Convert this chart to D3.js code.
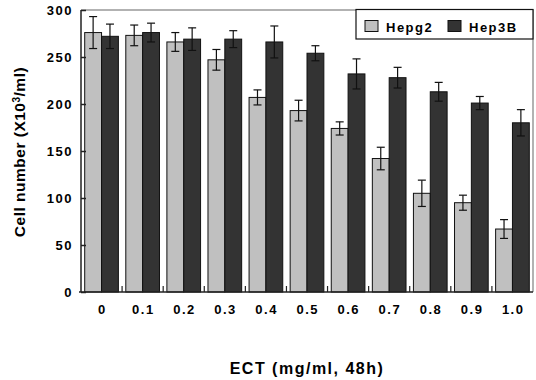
<!DOCTYPE html>
<html><head><meta charset="utf-8">
<script src="https://cdn.jsdelivr.net/npm/d3@7"></script>
<style>body{margin:0;background:#fff}svg{display:block;font-family:Arial,"Liberation Sans",sans-serif;font-weight:bold}</style>
</head><body><svg id="c" width="536" height="380"></svg>
<script>
const categories = ["0","0.1","0.2","0.3","0.4","0.5","0.6","0.7","0.8","0.9","1.0"];
const seriesNames = ["Hepg2","Hep3B"];
const hepg2 = [276,273,266,247,207,193,174,142,105,95,67];
const hepg2Err = [17,11,10,11,8,11,7,12,14,8,10];
const hep3b = [272,276,269,269,266,254,232,228,213,201,180];
const hep3bErr = [13,10,12,9,17,8,16,11,10,7,14];
const yTicks = [0,50,100,150,200,250,300];
const colors = ["#c0c0c0","#333333"];

const svg = d3.select("#c");
const m = {l:81, r:533, t:10, b:292};
const x = d3.scaleBand().domain(categories).range([m.l, m.r]).paddingInner(0).paddingOuter(0);
const xs = d3.scaleBand().domain(seriesNames).range([0, x.bandwidth()]).paddingInner(0).paddingOuter(0.22);
const y = d3.scaleLinear().domain([0,300]).range([m.b, m.t]);
const FF = "Arial, Liberation Sans, sans-serif";

svg.append("path").attr("d",`M${m.l},${m.t}H${m.r}V${m.b}`).attr("fill","none").attr("stroke","#999").attr("stroke-width",1.5);

const data = [hepg2, hep3b], errs = [hepg2Err, hep3bErr];
seriesNames.forEach((s,si)=>{
  const g = svg.append("g");
  g.selectAll("rect").data(categories).join("rect")
    .attr("x", c=>x(c)+xs(s)).attr("width", xs.bandwidth())
    .attr("y", (c,i)=>y(data[si][i])).attr("height",(c,i)=>y(0)-y(data[si][i]))
    .attr("fill", colors[si]).attr("stroke","#111").attr("stroke-width",1);
  const eg = g.selectAll("g.e").data(categories).join("g").attr("class","e")
    .attr("stroke","#111").attr("stroke-width",1.2);
  eg.append("line").attr("x1",c=>x(c)+xs(s)+xs.bandwidth()/2).attr("x2",c=>x(c)+xs(s)+xs.bandwidth()/2)
    .attr("y1",(c,i)=>y(data[si][i]+errs[si][i])).attr("y2",(c,i)=>y(data[si][i]-errs[si][i]));
  [1,-1].forEach(sg=>{
    eg.append("line").attr("x1",c=>x(c)+xs(s)+xs.bandwidth()/2-4).attr("x2",c=>x(c)+xs(s)+xs.bandwidth()/2+4)
      .attr("y1",(c,i)=>y(data[si][i]+sg*errs[si][i])).attr("y2",(c,i)=>y(data[si][i]+sg*errs[si][i]));
  });
});

const ya = d3.axisLeft(y).tickValues(yTicks).tickSize(-5).tickPadding(8);
const yg = svg.append("g").attr("transform",`translate(${m.l},0)`).call(ya);
yg.select(".domain").attr("stroke","#222").attr("stroke-width",1.5).attr("d",`M0,${m.t}V${m.b}`);
yg.selectAll(".tick line").attr("stroke","#222").attr("stroke-width",1.5);
yg.selectAll("text").attr("font-size",13).attr("font-weight","bold").attr("fill","#000").attr("font-family",FF).attr("letter-spacing","1.5px");

const xa = d3.axisBottom(x).tickSize(0).tickPadding(13);
const xg = svg.append("g").attr("transform",`translate(0,${m.b})`).call(xa);
xg.select(".domain").attr("stroke","#222").attr("stroke-width",1.5).attr("d",`M${m.l-2},0H${m.r}`);
xg.selectAll("text").attr("font-size",13).attr("font-weight","bold").attr("fill","#000").attr("font-family",FF).attr("letter-spacing","1.5px").attr("dx","0.7");
svg.append("g").selectAll("line").data(categories.slice(1)).join("line")
  .attr("x1",c=>x(c)).attr("x2",c=>x(c)).attr("y1",m.b).attr("y2",m.b-6)
  .attr("stroke","#222").attr("stroke-width",1.2);

svg.append("text").attr("transform","translate(25,152) rotate(-90)").attr("text-anchor","middle")
  .attr("font-size",15.5).attr("font-weight","bold").attr("letter-spacing","0.5px")
  .html('Cell number (X10<tspan baseline-shift="super" font-size="10">3</tspan>/ml)');
svg.append("text").attr("x",(m.l+m.r)/2).attr("y",374).attr("text-anchor","middle")
  .attr("font-size",16).attr("font-weight","bold").attr("letter-spacing","1.5px").text("ECT (mg/ml, 48h)");

const lg = svg.append("g");
lg.append("rect").attr("x",356).attr("y",9.5).attr("width",177).attr("height",29.5).attr("fill","#fff").attr("stroke","#111").attr("stroke-width",1.2);
const lx = [365, 448];
seriesNames.forEach((s,i)=>{
  lg.append("rect").attr("x",lx[i]).attr("y",20.5).attr("width",13).attr("height",11).attr("fill",colors[i]).attr("stroke","#111");
  lg.append("text").attr("x",lx[i]+21).attr("y",31.5).attr("font-size",13).attr("font-weight","bold").attr("letter-spacing","1.5px").text(s);
});
</script></body></html>
